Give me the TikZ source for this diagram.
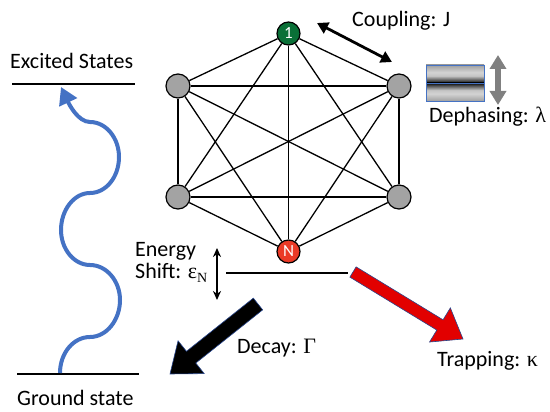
\documentclass[tikz,border=0pt]{standalone}
\usepackage{fontspec}
\setmainfont{Carlito}
\newfontfamily\grk{Liberation Serif}
\usetikzlibrary{arrows.meta,calc}
\definecolor{wave}{HTML}{4472C4}
\definecolor{gcol}{RGB}{163,163,163}
\definecolor{gnode}{RGB}{10,112,55}
\definecolor{rnode}{RGB}{235,58,38}
\definecolor{rarrow}{RGB}{226,0,0}
\definecolor{arrowedge}{RGB}{40,70,140}
\definecolor{graya}{RGB}{128,128,128}
\definecolor{boxedge}{HTML}{4472C4}
\pgfdeclareverticalshading{dephtop}{100bp}{color(0bp)=(black); color(25bp)=(black); color(29bp)=(black!80); color(45bp)=(gray!45); color(55bp)=(gray!35); color(75bp)=(gray!75); color(100bp)=(gray!75)}
\pgfdeclareverticalshading{dephbot}{100bp}{color(0bp)=(gray!75); color(25bp)=(gray!75); color(45bp)=(gray!35); color(55bp)=(gray!45); color(71bp)=(black!80); color(75bp)=(black); color(100bp)=(black)}
\newcommand\blockarr[6]{%
  \coordinate (#1h) at ($(#2)!#5!(#1)$);
  \draw[fill=#6, draw=arrowedge, line width=0.6pt, line join=miter]
    ($(#1)!#3!90:(#2)$) -- ($(#1h)!#3!-90:(#1)$) -- ($(#1h)!#4!-90:(#1)$) -- (#2)
    -- ($(#1h)!#4!90:(#1)$) -- ($(#1h)!#3!90:(#1)$) -- ($(#1)!#3!-90:(#2)$) -- cycle;}
\tikzset{
  site/.style={circle, draw=black, line width=1.2pt, minimum size=24pt, inner sep=0pt, fill=gcol},
  endsite/.style={circle, draw=black, line width=1.2pt, minimum size=23pt, inner sep=0pt, text=white, font=\fontsize{17}{17}\selectfont},
  lbl/.style={anchor=base west, inner sep=0pt},
  edge/.style={line width=1.3pt},
  level/.style={line width=2pt},
}
\begin{document}
\begin{tikzpicture}[x=1pt,y=-1pt,font=\fontsize{22}{26}\selectfont]
\useasboundingbox (0,0) rectangle (550,412);
% sites
\node[endsite, fill=gnode] (n1) at (288.5,33.5) {1};
\node[site] (ul) at (178,86) {};
\node[site] (ur) at (399,86) {};
\node[site] (ll) at (178,197) {};
\node[site] (lr) at (399,197) {};
\node[endsite, fill=rnode] (nN) at (288.5,251.5) {N};
\foreach \a/\b in {n1/ur,n1/lr,n1/nN,n1/ll,n1/ul,ur/lr,ur/nN,ur/ll,ur/ul,lr/nN,lr/ll,lr/ul,nN/ll,nN/ul,ll/ul}
  \draw[edge] (\a) -- (\b);
% coupling
\coordinate (c1) at (317,23);
\coordinate (c2) at (392,62);
\draw[line width=2.8pt, {Triangle[width=12pt,length=11pt]}-{Triangle[width=12pt,length=11pt]}] (c1) -- (c2);
\node[lbl] (coup) at (352,27) {Coupling: J};
% dephasing box
\shade[shading=dephtop] (426,65) rectangle (484,83);
\shade[shading=dephbot] (426,83) rectangle (484,101);
\draw[line width=2pt] (426,83) -- (484,83);
\draw[boxedge, line width=0.8pt] (426,65) rectangle (484,83);
\draw[boxedge, line width=0.8pt] (426,83) rectangle (484,101);
\coordinate (d1) at (498,55);
\coordinate (d2) at (498,105);
\draw[graya, line width=6pt, {Triangle[width=16pt,length=14pt]}-{Triangle[width=16pt,length=14pt]}] (d1) -- (d2);
\node[lbl] (deph) at (429,123) {Dephasing: {\grk λ}};
% energy levels
\coordinate (e1) at (12,84);
\coordinate (e2) at (135,84);
\draw[level] (e1) -- (e2);
\coordinate (g1) at (17,374);
\coordinate (g2) at (139,374);
\draw[level] (g1) -- (g2);
\node[lbl] (exc) at (10,69) {Excited States};
\node[lbl] (gnd) at (17,405) {Ground state};
% wavy excitation
\coordinate (w0) at (60,373);
\coordinate (w1) at (90,337);
\coordinate (w2) at (120,300);
\coordinate (w3) at (90,265);
\coordinate (w4) at (61,230);
\coordinate (w5) at (90,193);
\coordinate (w6) at (119,157);
\coordinate (w7) at (90,122);
\coordinate (w8) at (61,87);
\draw[wave, line width=4pt, -{Triangle[width=19pt,length=17pt]}]
  (w0) .. controls (60,353) and (73.5,337) .. (w1)
       .. controls (106.5,337) and (120,320) .. (w2)
       .. controls (120,281) and (106.5,265) .. (w3)
       .. controls (74,265) and (61,249) .. (w4)
       .. controls (61,210) and (74,193) .. (w5)
       .. controls (106,193) and (119,177) .. (w6)
       .. controls (119,138) and (106,122) .. (w7)
       .. controls (78,122) and (69,104) .. (w8);
% energy shift
\coordinate (s0) at (226,273);
\coordinate (s1) at (348,273);
\draw[line width=1.5pt] (s0) -- (s1);
\coordinate (a0) at (217,248);
\coordinate (a1) at (217,300);
\draw[line width=1.5pt, {Stealth[width=8pt,length=9pt]}-{Stealth[width=8pt,length=9pt]}] (a0) -- (a1);
\node[lbl] (en1) at (135,257) {Energy};
\node[lbl] (en2) at (135,278) {Shift: {\grk ε}\raisebox{-4pt}{\fontsize{14}{14}\selectfont\grk N}};
% trapping and decay
\coordinate (ra) at (353,272);
\coordinate (rb) at (463,339);
\blockarr{ra}{rb}{6pt}{20pt}{27pt}{rarrow}
\coordinate (ba) at (258,304);
\coordinate (bb) at (170,374);
\blockarr{ba}{bb}{7.5pt}{21pt}{27pt}{black}
\node[lbl] (dec) at (237,353) {Decay: {\grk Γ}};
\node[lbl] (trap) at (437,366) {Trapping: {\grk κ}};
\end{tikzpicture}
\end{document}
